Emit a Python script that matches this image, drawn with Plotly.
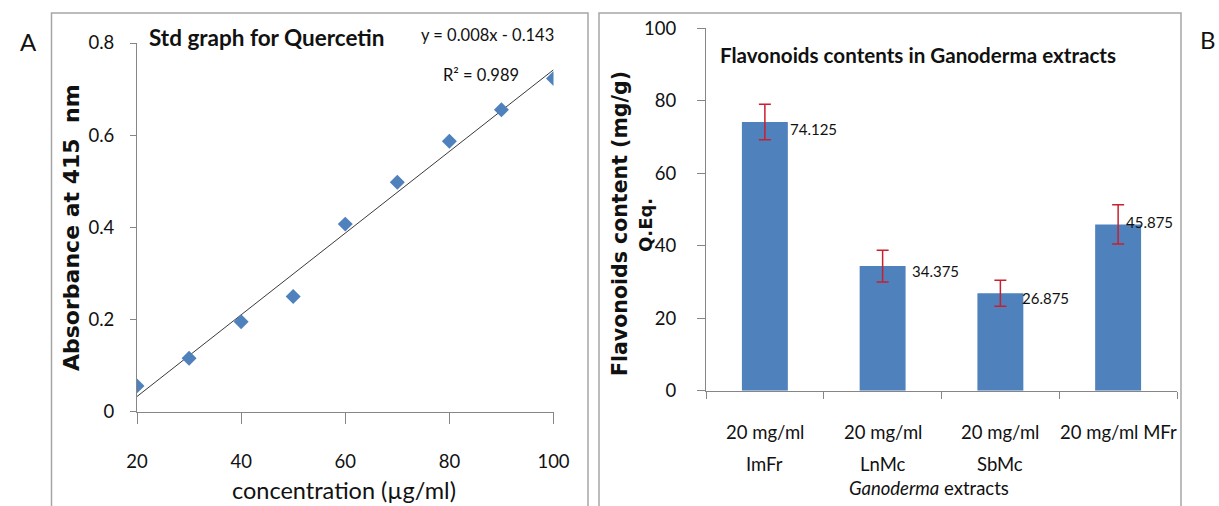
import numpy as np
import plotly.graph_objects as go

# ---------------- data ----------------
# Panel A: quercetin standard curve
conc = [20, 30, 40, 50, 60, 70, 80, 90, 100]            # µg/ml
absorb = [0.056, 0.116, 0.195, 0.25, 0.407, 0.498, 0.587, 0.655, 0.723]
x_ticks_a = [20, 40, 60, 80, 100]
y_ticks_a = [0, 0.2, 0.4, 0.6, 0.8]
eq_text = "y = 0.008x - 0.143"
r2_text = "R² = 0.989"

# Panel B: flavonoid contents
extracts = ["20 mg/ml ImFr", "20 mg/ml LnMc", "20 mg/ml SbMc", "20 mg/ml MFr"]
extract_labels = ["20 mg/ml<br>ImFr", "20 mg/ml<br>LnMc", "20 mg/ml<br>SbMc", "20 mg/ml MFr"]
flav = [74.125, 34.375, 26.875, 45.875]
flav_err = [4.9, 4.4, 3.6, 5.4]
value_labels = ["74.125", "34.375", "26.875", "45.875"]
y_ticks_b = [0, 20, 40, 60, 80, 100]

# ---------------- layout helpers ----------------
W, H = 1219, 506
def fx(px):
    return px / W
def fy(py):
    return 1 - py / H

BLUE = "#4F81BD"
RED = "#C8202F"
AXC = "#868686"
CAL = "Lato, Liberation Sans, sans-serif"
BOLDV = "DejaVu Sans, Verdana, sans-serif"
TXT = "#111111"

fig = go.Figure()

# trend line (least squares through the points)
slope, intercept = np.polyfit(conc, absorb, 1)
tx = np.array([min(conc), max(conc)])
fig.add_trace(go.Scatter(x=tx, y=slope * tx + intercept, mode="lines",
                         line=dict(color="#3a3a3a", width=1), xaxis="x", yaxis="y",
                         showlegend=False, hoverinfo="skip"))
fig.add_trace(go.Scatter(x=conc, y=absorb, mode="markers",
                         marker=dict(symbol="diamond", size=11.5, color=BLUE),
                         xaxis="x", yaxis="y", showlegend=False))

fig.add_trace(go.Bar(x=extracts, y=flav, width=0.39, marker=dict(color=BLUE, line=dict(width=0)),
                     error_y=dict(type="data", array=flav_err, color=RED, thickness=1.5, width=6),
                     xaxis="x2", yaxis="y2", showlegend=False))

axis_common = dict(showgrid=False, zeroline=False, showline=True, linecolor=AXC, linewidth=1,
                   ticks="outside", tickcolor=AXC, tickwidth=1, automargin=False,
                   tickfont=dict(family=CAL, size=18.5, color=TXT))

fig.update_layout(
    width=W, height=H, autosize=False,
    margin=dict(l=0, r=0, t=0, b=0, pad=0, autoexpand=False),
    paper_bgcolor="white", plot_bgcolor="white", showlegend=False,
    xaxis=dict(domain=[fx(137), fx(553.5)], range=[20, 100], tickvals=x_ticks_a,
               ticklen=11, ticklabelstandoff=22, anchor="y", **axis_common),
    yaxis=dict(domain=[fy(411.7), fy(43)], range=[0, 0.8], tickvals=y_ticks_a,
               ticklen=6, ticklabelstandoff=12, anchor="x", **axis_common),
    xaxis2=dict(domain=[fx(706), fx(1177)], range=[-0.5, 3.5], type="category",
                tickson="boundaries", ticklen=7, showticklabels=False, anchor="y2", **axis_common),
    yaxis2=dict(domain=[fy(390.7), fy(28.2)], range=[0, 100], tickvals=y_ticks_b,
                ticklen=8, ticklabelstandoff=17, anchor="x2", **axis_common),
)

ann = []
def add_text(text, x, y, size, family=CAL, bold=False, xanchor="center", angle=0, color=TXT):
    if bold:
        text = "<b>" + text + "</b>"
    ann.append(dict(text=text, x=fx(x), y=fy(y), xref="paper", yref="paper", showarrow=False,
                    xanchor=xanchor, yanchor="middle", textangle=angle,
                    font=dict(family=family, size=size, color=color)))

# panel letters
add_text("A", 28, 42, 24)
add_text("B", 1218, 40, 24, xanchor="right")

# panel A texts
add_text("Std graph for Quercetin", 147, 37, 22.5, bold=True, xanchor="left")
add_text(eq_text, 419, 35, 16.5, xanchor="left")
add_text(r2_text, 441, 75, 16.5, xanchor="left")
add_text("Absorbance at 415\u00a0\u00a0nm", 71, 228, 22, family=BOLDV, bold=True, angle=-90)
add_text("concentration (µg/ml)", 344, 490, 23.5)

# panel B texts
add_text("Flavonoids contents in Ganoderma extracts", 718, 55, 20.6, bold=True, xanchor="left")
add_text("Flavonoids content (mg/g)", 620, 224, 20.5, family=BOLDV, bold=True, angle=-90)
add_text("Q.Eq.", 645, 225, 18, family=BOLDV, bold=True, angle=-90)
add_text("<i>Ganoderma</i> extracts", 929, 488, 18.5)

# category labels (two lines)
for cat, lab in zip(extracts, extract_labels):
    lines = lab.split("<br>")
    for i, ln in enumerate(lines):
        ann.append(dict(text=ln, x=cat, y=0, xref="x2", yref="y2", showarrow=False,
                        xanchor="center", yanchor="middle", yshift=-(432 - 390.7) - 32 * i,
                        font=dict(family=CAL, size=18.5, color=TXT)))

# value labels beside the bars
label_dx = [23, 27, 20, 6]
label_dy = [-7, -5, -5, 2]
for cat, v, t, dx, dy in zip(extracts, flav, value_labels, label_dx, label_dy):
    ann.append(dict(text=t, x=cat, y=v, xref="x2", yref="y2", showarrow=False,
                    xanchor="left", yanchor="middle", xshift=dx, yshift=dy,
                    font=dict(family=CAL, size=15, color=TXT)))

fig.update_layout(annotations=ann)

# panel borders
for x0, x1 in [(51.5, 588), (599, 1181)]:
    fig.add_shape(type="rect", xref="paper", yref="paper", x0=fx(x0), x1=fx(x1), y0=-0.05, y1=fy(13),
                  line=dict(color="#A6A6A6", width=1.5), fillcolor="rgba(0,0,0,0)", layer="below")

page_css = ("document.documentElement.style.margin='0';document.documentElement.style.padding='0';"
            "document.body.style.margin='0';document.body.style.padding='0';"
            "document.body.style.overflow='hidden';document.documentElement.style.overflow='hidden';")
fig.write_html("out.html", post_script=page_css)
